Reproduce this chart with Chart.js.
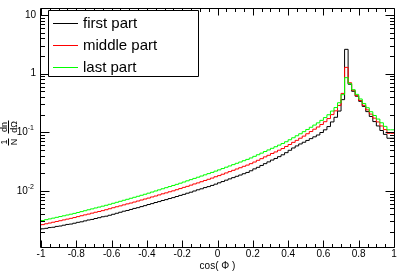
<!DOCTYPE html>
<html><head><meta charset="utf-8">
<script src="https://cdn.jsdelivr.net/npm/chart.js@4.4.1/dist/chart.umd.min.js"></script>
<style>html,body{margin:0;padding:0;background:#fff;}canvas{display:block;}</style>
</head><body>
<canvas id="c" width="407" height="276"></canvas>
<script>
// histogram range (100 equal bins between binLow and binHigh)
const binLow = -1, binHigh = 1;

const firstPart = [
0.00218,0.00225,0.00229,0.00236,0.00239,0.00247,0.00251,0.00259,0.00267,0.00271,
0.00280,0.00290,0.00296,0.00307,0.00318,0.00325,0.00337,0.00348,0.00361,0.00369,
0.00383,0.00398,0.00414,0.00431,0.00449,0.00462,0.00481,0.00501,0.00516,0.00538,
0.00559,0.00584,0.00605,0.00632,0.00655,0.00684,0.00708,0.00739,0.00766,0.00800,
0.00836,0.00870,0.00911,0.00948,0.00994,0.01042,0.01083,0.01136,0.01180,0.01237,
0.0130,0.0137,0.0144,0.0152,0.0160,0.0168,0.0177,0.0186,0.0196,0.0206,
0.0220,0.0237,0.0252,0.0271,0.0291,0.0312,0.0335,0.0357,0.0383,0.0412,
0.0448,0.0492,0.0539,0.0584,0.0631,0.0675,0.0725,0.0778,0.0835,0.0897,
0.0990,0.110,0.125,0.150,0.180,0.230,0.36,2.6,0.66,0.50,
0.412,0.337,0.276,0.225,0.186,0.152,0.128,0.107,0.092,0.079];

const middlePart = [
0.00258,0.00265,0.00274,0.00282,0.00291,0.00300,0.00309,0.00319,0.00329,0.00339,
0.00350,0.00363,0.00376,0.00389,0.00401,0.00416,0.00431,0.00444,0.00459,0.00476,
0.00495,0.00515,0.00535,0.00554,0.00576,0.00599,0.00619,0.00644,0.00670,0.00697,
0.00725,0.00752,0.00786,0.00816,0.00852,0.00890,0.00923,0.00964,0.01000,0.01045,
0.01093,0.01145,0.01193,0.01251,0.01311,0.01366,0.01432,0.01502,0.01574,0.01650,
0.0174,0.0182,0.0192,0.0202,0.0213,0.0224,0.0236,0.0248,0.0262,0.0275,
0.0291,0.0310,0.0332,0.0354,0.0380,0.0404,0.0434,0.0461,0.0494,0.0527,
0.0572,0.0618,0.0672,0.0727,0.0791,0.0859,0.0942,0.1028,0.1127,0.1229,
0.1357,0.1513,0.171,0.200,0.232,0.287,0.46,1.28,0.70,0.52,
0.421,0.348,0.288,0.241,0.204,0.174,0.150,0.128,0.111,0.096];

const lastPart = [
0.00303,0.00312,0.00322,0.00332,0.00342,0.00353,0.00364,0.00375,0.00387,0.00399,
0.00412,0.00427,0.00442,0.00458,0.00475,0.00492,0.00510,0.00528,0.00547,0.00567,
0.00589,0.00613,0.00637,0.00663,0.00690,0.00717,0.00746,0.00776,0.00807,0.00840,
0.00874,0.00912,0.00953,0.00995,0.01039,0.01085,0.01133,0.01183,0.01235,0.01290,
0.01349,0.01414,0.01482,0.01554,0.01629,0.01708,0.01790,0.01877,0.01967,0.02062,
0.0217,0.0228,0.0240,0.0253,0.0266,0.0280,0.0295,0.0310,0.0327,0.0344,
0.0364,0.0388,0.0413,0.0440,0.0469,0.0499,0.0532,0.0566,0.0603,0.0643,
0.0689,0.0745,0.0805,0.0871,0.0942,0.1023,0.1115,0.1216,0.1326,0.1446,
0.1596,0.178,0.199,0.230,0.264,0.319,0.438,0.855,0.675,0.532,
0.443,0.370,0.310,0.262,0.224,0.193,0.168,0.145,0.126,0.110];

const seriesLabels = ['first part', 'middle part', 'last part'];
const seriesColors = ['#000000', '#ff0000', '#00ff00'];

const xTickValues = [-1,-0.8,-0.6,-0.4,-0.2,0,0.2,0.4,0.6,0.8,1];
const xTickLabels = ['-1','-0.8','-0.6','-0.4','-0.2','0','0.2','0.4','0.6','0.8','1'];
const yTickValues = [0.01, 0.1, 1, 10];
const yTickLabels = ['10^-2', '10^-1', '1', '10'];
const xTitle = 'cos( \u03A6 )';
const yMin = 0.0011, yMax = 13.2;

const FONT = '"Liberation Sans", Arial, Helvetica, sans-serif';

function toSteps(vals) {
  const n = vals.length, w = (binHigh - binLow) / n;
  const pts = vals.map((v, i) => ({ x: binLow + i * w, y: v }));
  pts.push({ x: binHigh, y: vals[n - 1] });
  return pts;
}

const rootFrame = {
  id: 'rootFrame',
  afterDatasetsDraw(chart) {
    const { ctx, chartArea: a, scales } = chart;
    const xs = scales.x, ys = scales.y;
    const L = Math.round(a.left) - 0.5, R = Math.round(a.right) + 0.5;
    const T = Math.round(a.top) + 0.5, B = Math.round(a.bottom) + 0.5;
    ctx.save();
    ctx.strokeStyle = '#000'; ctx.lineWidth = 1;
    ctx.beginPath();
    ctx.rect(L, T, R - L, B - T);
    // x ticks (bottom & top, inward)
    const xt = (v, len) => {
      const p = Math.round(xs.getPixelForValue(v)) + 0.5;
      ctx.moveTo(p, B); ctx.lineTo(p, B - len);
      ctx.moveTo(p, T); ctx.lineTo(p, T + len);
    };
    for (let i = 0; i < xTickValues.length; i++) {
      xt(xTickValues[i], 7);
      if (i < xTickValues.length - 1) {
        const st = (xTickValues[i + 1] - xTickValues[i]) / 4;
        for (let k = 1; k < 4; k++) xt(xTickValues[i] + k * st, 3.5);
      }
    }
    // y ticks (left & right, inward)
    const yt = (v, len) => {
      if (v < yMin || v > yMax) return;
      const p = Math.round(ys.getPixelForValue(v)) + 0.5;
      ctx.moveTo(L, p); ctx.lineTo(L + len, p);
      ctx.moveTo(R, p); ctx.lineTo(R - len, p);
    };
    const decades = [yTickValues[0] / 10].concat(yTickValues);
    decades.forEach(d => {
      yt(d, 9);
      for (let m = 2; m <= 9; m++) yt(d * m, 4.5);
    });
    ctx.stroke();

    // tick labels
    ctx.fillStyle = '#000';
    ctx.font = '10px ' + FONT;
    ctx.textAlign = 'center'; ctx.textBaseline = 'middle';
    xTickValues.forEach((v, i) => {
      ctx.fillText(xTickLabels[i], xs.getPixelForValue(v), 254);
    });
    yTickValues.forEach((v, i) => {
      const p = ys.getPixelForValue(v);
      const lab = yTickLabels[i];
      if (lab.indexOf('^') >= 0) {
        const [base, ex] = lab.split('^');
        ctx.font = '7px ' + FONT;
        const ew = ctx.measureText(ex).width;
        ctx.textAlign = 'right';
        ctx.fillText(ex, 34, p - 4);
        ctx.font = '10px ' + FONT;
        ctx.fillText(base, 34 - ew, p);
      } else {
        ctx.font = '10px ' + FONT;
        ctx.textAlign = 'right';
        ctx.fillText(lab, 36, p);
      }
    });

    // x title
    ctx.font = '10px ' + FONT;
    ctx.textAlign = 'center'; ctx.textBaseline = 'middle';
    ctx.fillText(xTitle, xs.getPixelForValue(0), 266);

    // y title: 1/N dn/dΩ (rotated)
    ctx.save();
    ctx.translate(8.5, 146);
    ctx.rotate(-Math.PI / 2);
    ctx.font = '9px ' + FONT;
    ctx.textAlign = 'center'; ctx.textBaseline = 'alphabetic';
    const frac = (num, den, u, w) => {
      ctx.fillText(num, u, -1.5);
      ctx.fillText(den, u, 8);
      ctx.beginPath(); ctx.moveTo(u - w / 2, 0); ctx.lineTo(u + w / 2, 0); ctx.stroke();
    };
    frac('1', 'N', 4, 7);
    frac('dn', 'd\u03A9', 19, 13);
    ctx.restore();

    // legend
    const lx = 48.5, ly = 10.5, lw = 150, lh = 66;
    ctx.fillStyle = '#fff';
    ctx.fillRect(lx, ly, lw, lh);
    ctx.beginPath(); ctx.rect(lx, ly, lw, lh); ctx.stroke();
    ctx.font = '15px ' + FONT;
    ctx.textAlign = 'left'; ctx.textBaseline = 'middle';
    seriesLabels.forEach((lab, i) => {
      const yy = 23.5 + i * 22;
      ctx.strokeStyle = seriesColors[i];
      ctx.beginPath(); ctx.moveTo(53, yy); ctx.lineTo(78, yy); ctx.stroke();
      ctx.fillStyle = '#000';
      ctx.fillText(lab, 83, yy);
    });
    ctx.restore();
  }
};

const mk = (i, vals, order) => ({
  label: seriesLabels[i], data: toSteps(vals), borderColor: seriesColors[i],
  borderWidth: 1, pointRadius: 0, stepped: 'after', fill: false, order: order
});

new Chart(document.getElementById('c'), {
  type: 'line',
  data: { datasets: [mk(2, lastPart, 0), mk(1, middlePart, 1), mk(0, firstPart, 2)] },
  options: {
    responsive: false, animation: false, devicePixelRatio: 1,
    layout: { padding: { top: 8, right: 13, left: 0, bottom: 0 } },
    plugins: { legend: { display: false }, tooltip: { enabled: false } },
    scales: {
      x: { type: 'linear', min: binLow, max: binHigh,
           ticks: { display: false }, grid: { display: false }, border: { display: false },
           afterFit(s) { s.height = 29; } },
      y: { type: 'logarithmic', min: yMin, max: yMax,
           ticks: { display: false }, grid: { display: false }, border: { display: false },
           afterFit(s) { s.width = 41; } }
    }
  },
  plugins: [rootFrame]
});
</script>
</body></html>
